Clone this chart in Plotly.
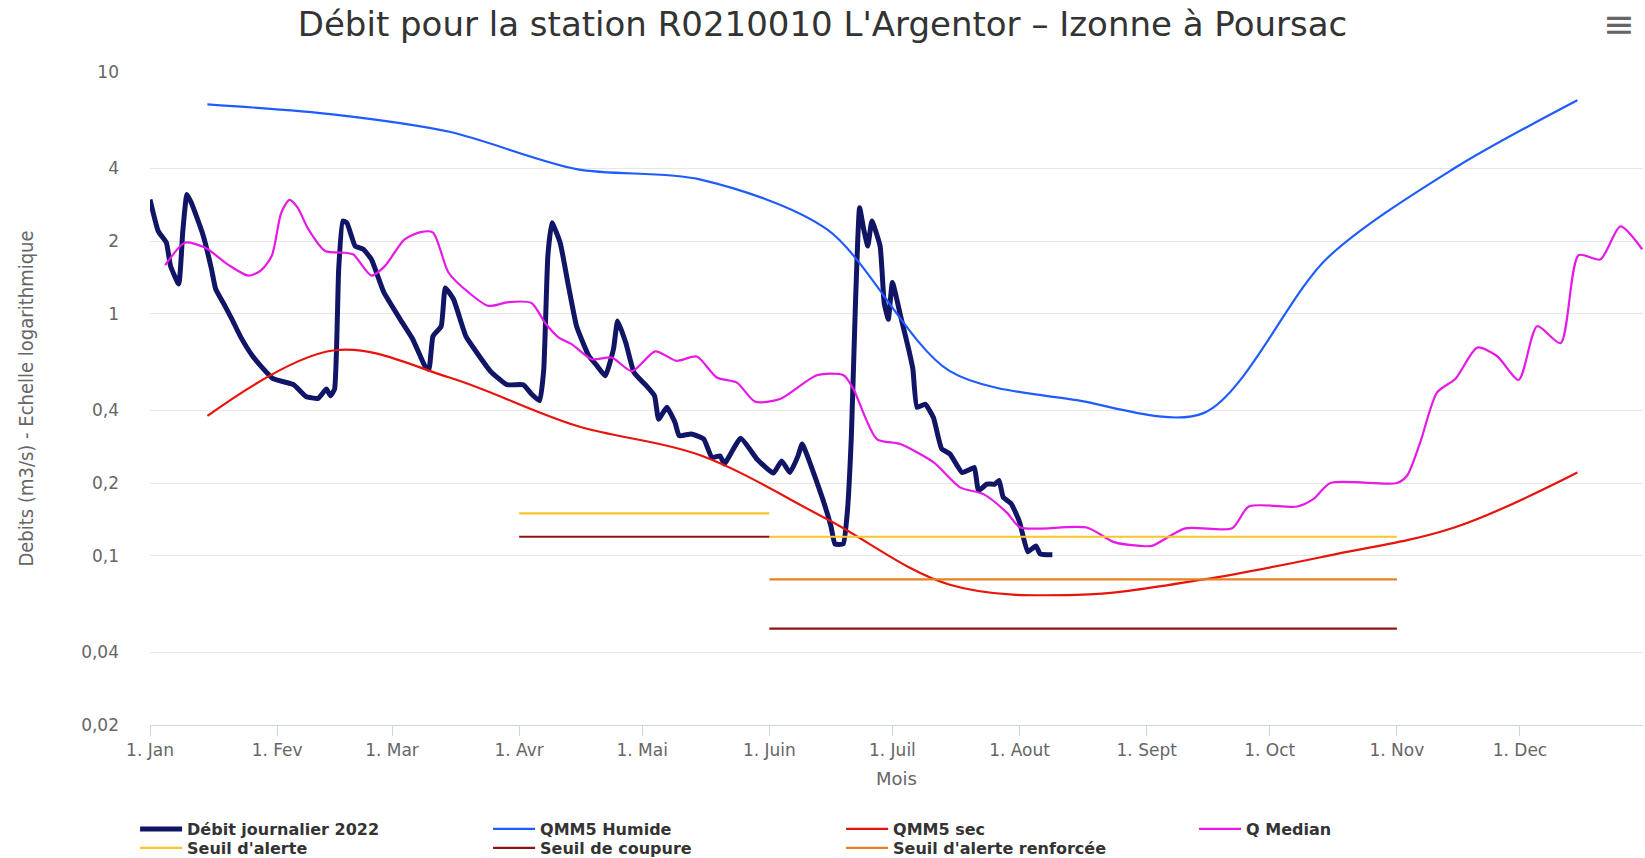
import pandas as pd
import plotly.graph_objects as go

START = pd.Timestamp("2022-01-01")

# ---------------- data ----------------
month_ticks = ["2022-01-01", "2022-02-01", "2022-03-01", "2022-04-01", "2022-05-01", "2022-06-01",
               "2022-07-01", "2022-08-01", "2022-09-01", "2022-10-01", "2022-11-01", "2022-12-01"]
month_labels = ["1. Jan", "1. Fev", "1. Mar", "1. Avr", "1. Mai", "1. Juin",
                "1. Juil", "1. Aout", "1. Sept", "1. Oct", "1. Nov", "1. Dec"]

y_ticks = [0.02, 0.04, 0.1, 0.2, 0.4, 1, 2, 4, 10]
y_tick_labels = ["0,02", "0,04", "0,1", "0,2", "0,4", "1", "2", "4", "10"]

# Débit journalier 2022 (day of year offset, m3/s)
debit_days = [0, 2, 4, 5, 7, 8, 9, 10, 11, 13, 15, 16, 18, 20, 22, 25, 27, 30, 35, 38, 41, 43, 44, 45,
              46, 47, 48, 50, 52, 54, 57, 61, 64, 67, 68, 69, 71, 72, 74, 77, 80, 83, 87, 91, 93, 95,
              96, 97, 98, 100, 102, 104, 107, 109, 111, 113, 114, 116, 118, 121, 123, 124, 126, 128,
              129, 132, 135, 137, 139, 140, 144, 148, 152, 154, 156, 158, 159, 162, 164, 166, 167,
              169, 170, 171, 172, 173, 174, 175, 176, 178, 179, 180, 181, 183, 185, 186, 187, 189,
              191, 193, 195, 198, 200, 201, 202, 204, 206, 207, 208, 210, 212, 214, 216, 217, 220]
debit_values = [2.97, 2.20, 1.97, 1.58, 1.33, 2.2, 3.12, 2.9, 2.62, 2.10, 1.53, 1.27, 1.10, 0.95, 0.81,
                0.67, 0.61, 0.54, 0.51, 0.456, 0.448, 0.489, 0.459, 0.489,
                1.53, 2.42, 2.38, 1.91, 1.85, 1.68, 1.23, 0.95, 0.79, 0.61, 0.59, 0.81, 0.89, 1.28,
                1.15, 0.81, 0.68, 0.58, 0.51, 0.51, 0.467, 0.438,
                0.59, 1.74, 2.38, 1.97, 1.31, 0.89, 0.67, 0.61, 0.555, 0.716, 0.935, 0.76, 0.573,
                0.505, 0.459, 0.367, 0.411, 0.356,
                0.314, 0.319, 0.304, 0.255, 0.259, 0.240, 0.306, 0.251, 0.220, 0.247, 0.221, 0.259,
                0.29, 0.215, 0.172, 0.133, 0.112,
                0.112, 0.151, 0.314, 1.11, 2.75, 2.24, 1.91, 2.42, 1.91, 1.11, 0.95, 1.35, 0.98, 0.71,
                0.59, 0.411, 0.424,
                0.373, 0.277, 0.264, 0.221, 0.228, 0.232, 0.186, 0.198, 0.198, 0.205, 0.175, 0.164,
                0.138, 0.104, 0.110, 0.102, 0.101]

# Monthly references (15th of each month)
qmm_dates = ["2022-01-15", "2022-02-15", "2022-03-15", "2022-04-15", "2022-05-15", "2022-06-15",
             "2022-07-15", "2022-08-15", "2022-09-15", "2022-10-15", "2022-11-15", "2022-12-15"]
qmm5_humide = [7.35, 6.67, 5.66, 3.97, 3.6, 2.24, 0.58, 0.44, 0.39, 1.70, 4.0, 7.64]
qmm5_sec = [0.379, 0.708, 0.546, 0.345, 0.261, 0.142, 0.076, 0.069, 0.080, 0.100, 0.131, 0.221]

# Q Median (day of year offset, m3/s)
qmed_days = [3.7, 8.5, 13.4, 19, 24, 27, 29.7, 32, 34, 36, 38.6, 42.7, 47.6, 49.6, 54, 57.3, 62, 66, 69,
             72.8, 77.6, 82.5, 87.4, 93, 96.3, 99.6, 102.8, 107.7, 112.6, 117.5, 123.2, 128.4, 133.3,
             138.2, 143.1, 147.5, 153.6, 162.6, 169.1, 171.5, 177.2, 182.9, 191, 197.5, 203.2, 208.9,
             212.2, 228.4, 235, 241.5, 244.3, 252.4, 263.8, 267.9, 279.7, 283.7, 287.8, 304, 306.5,
             309.7, 313.8, 318.3, 323.6, 328.4, 333.7, 338.2, 343.9, 348.3, 353.6, 358.5, 363.8]
qmed_values = [1.59, 1.97, 1.88, 1.60, 1.44, 1.51, 1.74, 2.62, 2.96, 2.75, 2.24, 1.82, 1.79, 1.76, 1.44,
               1.58, 2.03, 2.18, 2.17, 1.48, 1.23, 1.08, 1.12, 1.11, 0.92, 0.80, 0.75, 0.65, 0.66, 0.58,
               0.70, 0.64, 0.667, 0.546, 0.52, 0.434, 0.445, 0.558, 0.558, 0.489, 0.304, 0.29, 0.244,
               0.192, 0.18, 0.151, 0.131, 0.131, 0.114, 0.110, 0.110, 0.130, 0.130, 0.160, 0.160,
               0.172, 0.20, 0.20, 0.215, 0.295, 0.474, 0.54, 0.726, 0.67, 0.534, 0.89, 0.757, 1.75,
               1.68, 2.30, 1.85]

# Thresholds (None separates periods)
seuil_dates = ["2022-04-01", "2022-06-01", None, "2022-06-01", "2022-11-01"]
seuil_alerte = [0.15, 0.15, None, 0.12, 0.12]
seuil_coupure = [0.12, 0.12, None, 0.05, 0.05]
seuil_renf_dates = ["2022-06-01", "2022-11-01"]
seuil_renforcee = [0.08, 0.08]


def to_dates(days):
    return [START + pd.Timedelta(days=d) for d in days]


# ---------------- figure ----------------
fig = go.Figure()

fig.add_trace(go.Scatter(x=to_dates(debit_days), y=debit_values, mode="lines",
                         name="Débit journalier 2022", legend="legend",
                         line=dict(color="#111566", width=5, shape="spline", smoothing=0.4)))
fig.add_trace(go.Scatter(x=qmm_dates, y=qmm5_humide, mode="lines", name="QMM5 Humide", legend="legend",
                         line=dict(color="#1f5cff", width=2.2, shape="spline", smoothing=0.85)))
fig.add_trace(go.Scatter(x=qmm_dates, y=qmm5_sec, mode="lines", name="QMM5 sec", legend="legend",
                         line=dict(color="#e8140c", width=2.2, shape="spline", smoothing=1)))
fig.add_trace(go.Scatter(x=to_dates(qmed_days), y=qmed_values, mode="lines", name="Q Median",
                         legend="legend",
                         line=dict(color="#e619e6", width=2.2, shape="spline", smoothing=0.7)))
fig.add_trace(go.Scatter(x=seuil_dates, y=seuil_alerte, mode="lines", name="Seuil d'alerte",
                         legend="legend2", connectgaps=False,
                         line=dict(color="#fcc52c", width=2.2)))
fig.add_trace(go.Scatter(x=seuil_dates, y=seuil_coupure, mode="lines", name="Seuil de coupure",
                         legend="legend2", connectgaps=False,
                         line=dict(color="#8c1414", width=2.2)))
fig.add_trace(go.Scatter(x=seuil_renf_dates, y=seuil_renforcee, mode="lines",
                         name="Seuil d'alerte renforcée", legend="legend2",
                         line=dict(color="#e6821e", width=2.2)))

legend_common = dict(orientation="h", xanchor="left", yanchor="middle",
                     font=dict(family="DejaVu Sans", size=16, color="#333333", weight="bold"),
                     itemwidth=42, entrywidth=296, entrywidthmode="pixels",
                     bgcolor="rgba(0,0,0,0)", traceorder="normal")

fig.update_layout(
    width=1645, height=858,
    margin=dict(l=150, r=2, t=72, b=133, autoexpand=False),
    paper_bgcolor="white", plot_bgcolor="white",
    font=dict(family="DejaVu Sans", color="#666666"),
    title=dict(text="Débit pour la station R0210010 L'Argentor – Izonne à Poursac",
               x=0.5, xref="container", xanchor="center",
               y=1 - 24 / 858, yref="container", yanchor="middle",
               font=dict(family="DejaVu Sans", size=34, color="#333333")),
    xaxis=dict(type="date", range=["2022-01-01", "2022-12-31"],
               tickvals=month_ticks, ticktext=month_labels,
               ticks="outside", ticklen=10, tickcolor="#ccd6eb", tickwidth=1,
               showline=True, linecolor="#ccd6eb", linewidth=1,
               showgrid=False, zeroline=False,
               tickfont=dict(family="DejaVu Sans", size=17, color="#666666"),
               title=dict(text="Mois", standoff=12,
                          font=dict(family="DejaVu Sans", size=18, color="#666666"))),
    yaxis=dict(type="log", range=[-1.69897, 1.0],
               tickvals=y_ticks, ticktext=y_tick_labels,
               showgrid=True, gridcolor="#e6e6e6", gridwidth=1,
               zeroline=False, showline=False, ticks="",
               ticklabelstandoff=30,
               tickfont=dict(family="DejaVu Sans", size=17, color="#666666"),
               title=dict(text="Debits (m3/s) - Echelle logarithmique", standoff=42,
                          font=dict(family="Liberation Sans Narrow, DejaVu Sans Condensed, sans-serif",
                                    size=20, color="#666666"))),
    legend=dict(x=-0.010, y=(725 - 829) / 653, **legend_common),
    legend2=dict(x=-0.010, y=(725 - 848) / 653, **legend_common),
    showlegend=True,
    annotations=[dict(text="≡", xref="paper", yref="paper", x=(1619 - 150) / 1493,
                      y=(725 - 24) / 653, xanchor="center", yanchor="middle", showarrow=False,
                      font=dict(family="DejaVu Sans", size=38, color="#666666"))],
)

fig.write_html("out.html", config={"displayModeBar": False},
               post_script="document.body.style.margin='0';document.body.style.overflow='hidden';")
